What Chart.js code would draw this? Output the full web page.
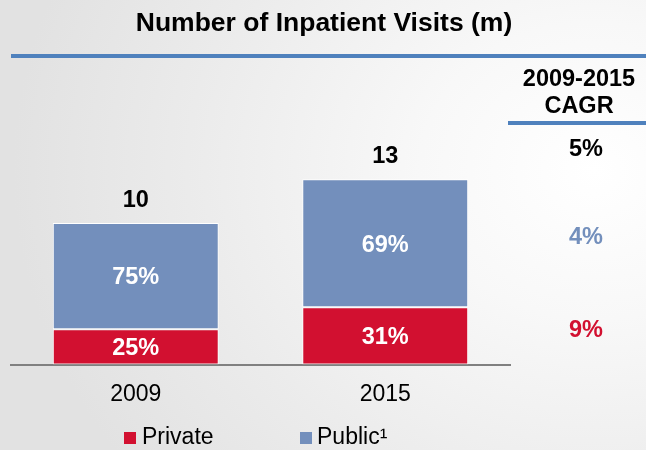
<!DOCTYPE html>
<html>
<head>
<meta charset="utf-8">
<script src="https://cdn.jsdelivr.net/npm/chart.js@4.4.1/dist/chart.umd.min.js"></script>
<style>
  html, body { margin: 0; padding: 0; }
  body {
    width: 646px; height: 450px; overflow: hidden;
    background: radial-gradient(ellipse 90% 110% at 92% 38%, #ffffff 0%, #f8f8f8 30%, #ebebeb 70%, #e2e2e2 100%);
  }
  canvas { display: block; }
</style>
</head>
<body>
<canvas id="c" width="646" height="450"></canvas>
<script>
// ---- data ----
const titleText = 'Number of Inpatient Visits (m)';
const categories = ['2009', '2015'];
const totals = [10, 13];
const privateValues = [2.5, 4.05];
const publicValues = [7.5, 9.05];
const privateShareLabels = ['25%', '31%'];
const publicShareLabels = ['75%', '69%'];
const seriesNames = ['Private', 'Public\u00B9'];
const cagrHeader = ['2009-2015', 'CAGR'];
const cagrLabels = ['5%', '4%', '9%'];

const RED = 'rgb(210,16,48)';
const BLUE = 'rgb(115,143,188)';
const LINE_BLUE = 'rgb(79,129,189)';
const FONT = '"Liberation Sans", Arial, sans-serif';

const overlay = {
  id: 'overlay',
  afterDraw(chart) {
    const ctx = chart.ctx;
    ctx.save();
    // title
    ctx.fillStyle = '#000';
    ctx.font = 'bold 26.5px ' + FONT;
    ctx.textAlign = 'center';
    ctx.textBaseline = 'alphabetic';
    ctx.fillText(titleText, 324, 31);
    // title rule
    ctx.fillStyle = LINE_BLUE;
    ctx.fillRect(11, 54, 635, 4);
    // CAGR header
    ctx.fillStyle = '#000';
    ctx.font = 'bold 23.5px ' + FONT;
    ctx.fillText(cagrHeader[0], 579, 86);
    ctx.fillText(cagrHeader[1], 579, 113);
    ctx.fillStyle = LINE_BLUE;
    ctx.fillRect(508, 121, 138, 4);
    // CAGR values
    const cagrColors = ['#000', BLUE, RED];
    const cagrY = [156, 244, 337];
    ctx.font = 'bold 23.5px ' + FONT;
    cagrLabels.forEach((t, i) => {
      ctx.fillStyle = cagrColors[i];
      ctx.fillText(t, 586, cagrY[i]);
    });
    // segment labels and totals
    const mPriv = chart.getDatasetMeta(0);
    const mPub = chart.getDatasetMeta(1);
    ctx.font = 'bold 23.5px ' + FONT;
    categories.forEach((c, i) => {
      const p = mPriv.data[i], q = mPub.data[i];
      ctx.fillStyle = '#fff';
      ctx.fillText(privateShareLabels[i], p.x, (p.y + p.base) / 2 + 8.4);
      ctx.fillText(publicShareLabels[i], q.x, (q.y + q.base) / 2 + 8.4);
      ctx.fillStyle = '#000';
      ctx.fillText(String(totals[i]), q.x, q.y - 16.5);
    });
    // legend
    ctx.font = '23px ' + FONT;
    ctx.textAlign = 'left';
    const legendBox = [124, 300];
    const legendText = [142, 317];
    const legendColors = [RED, BLUE];
    seriesNames.forEach((n, i) => {
      ctx.fillStyle = legendColors[i];
      ctx.fillRect(legendBox[i], 432, 12, 12);
      ctx.fillStyle = '#000';
      ctx.fillText(n, legendText[i], 444);
    });
    ctx.restore();
  }
};

new Chart(document.getElementById('c'), {
  type: 'bar',
  data: {
    labels: categories,
    datasets: [
      { label: seriesNames[0], data: privateValues, backgroundColor: RED,
        borderColor: '#ffffff', borderWidth: 1, borderSkipped: false },
      { label: seriesNames[1], data: publicValues, backgroundColor: BLUE,
        borderColor: '#ffffff', borderWidth: 1, borderSkipped: false }
    ]
  },
  options: {
    responsive: false,
    animation: false,
    devicePixelRatio: 1,
    layout: { padding: { left: 11, right: 136, top: 81.5, bottom: 35.5 } },
    plugins: { legend: { display: false }, title: { display: false }, tooltip: { enabled: false } },
    datasets: { bar: { categoryPercentage: 1, barPercentage: 0.665 } },
    scales: {
      x: {
        stacked: true,
        grid: { display: false, drawTicks: false },
        border: { display: true, color: '#808080', width: 2 },
        ticks: { color: '#000', font: { family: FONT, size: 23 }, padding: 16 },
        afterFit(scale) { scale.height = 50; }
      },
      y: {
        stacked: true, display: false, min: 0, max: 20
      }
    }
  },
  plugins: [overlay]
});
</script>
</body>
</html>
